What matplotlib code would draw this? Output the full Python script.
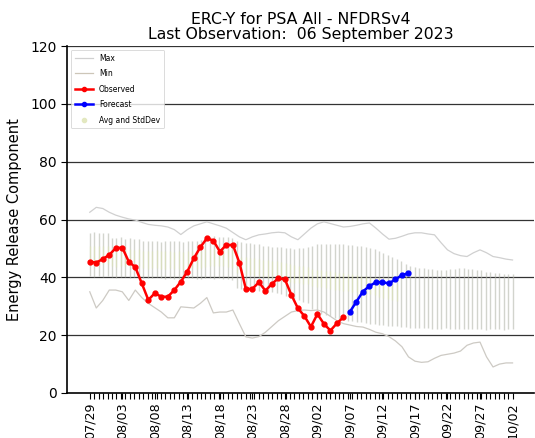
import matplotlib
matplotlib.use("Agg")
import matplotlib.pyplot as plt
import numpy as np
from matplotlib.lines import Line2D

# ---- data (days since 07/29) ----
tick_labels = ["07/29", "08/03", "08/08", "08/13", "08/18", "08/23", "08/28",
               "09/02", "09/07", "09/12", "09/17", "09/22", "09/27", "10/02"]

observed = [45.4, 45.1, 46.3, 47.8, 50.1, 50.3, 45.4, 43.5, 37.9, 32.2,
            34.5, 33.3, 33.3, 35.6, 38.5, 42.0, 46.6, 50.4, 53.5, 52.7,
            48.9, 51.2, 51.2, 45.1, 36.0, 36.0, 38.3, 35.4, 37.7, 39.7,
            39.3, 33.9, 29.3, 26.6, 22.9, 27.3, 23.9, 21.6, 24.1, 26.2]

forecast = [28.1, 31.6, 35.1, 37.0, 38.3, 38.3, 37.9, 39.3, 40.8, 41.4]

max_vals = [62.5, 64.2, 63.8, 62.5, 61.5, 60.8, 60.2, 59.8, 59.0, 58.3,
            58.0, 57.8, 57.4, 56.5, 54.8, 56.5, 57.8, 58.5, 59.2, 58.5,
            57.8, 57.0, 55.5, 54.0, 53.0, 54.0, 54.7, 55.0, 55.4, 55.6,
            55.4, 54.0, 53.0, 55.0, 57.0, 58.5, 59.2, 58.6, 58.0, 57.4,
            57.6, 58.0, 58.5, 58.8, 57.0, 55.0, 53.2, 53.5, 54.2, 55.0,
            55.4, 55.4, 55.0, 54.7, 52.0, 49.5, 48.2, 47.5, 47.2, 48.5,
            49.5, 48.5, 47.2, 46.8, 46.3, 46.0]

min_vals = [35.0, 29.4, 32.0, 35.6, 35.6, 35.0, 32.0, 35.6, 33.0, 31.0,
            29.5, 28.0, 26.0, 26.0, 29.8, 29.6, 29.4, 31.0, 33.0, 27.7,
            28.0, 28.0, 28.7, 24.0, 19.4, 19.0, 19.5, 21.0, 23.0, 25.0,
            26.5, 28.0, 28.5, 28.7, 28.5, 28.7, 28.0, 26.5, 25.0, 24.0,
            23.5, 23.0, 22.8, 22.0, 21.0, 20.5, 19.5, 18.0, 16.0, 12.5,
            11.0, 10.6, 10.8, 12.0, 13.0, 13.4, 13.8, 14.5, 16.5, 17.3,
            17.6, 12.5, 9.0, 10.0, 10.4, 10.4]

std_high = [55.5, 55.6, 55.4, 55.5, 55.2, 53.6, 53.5, 53.8, 53.4, 53.5,
            53.2, 53.4, 52.6, 52.5, 52.4, 52.6, 52.3, 52.5, 52.6, 52.4,
            52.5, 52.3, 52.6, 52.4, 52.5, 52.8, 53.8, 54.0, 54.2, 53.9,
            54.1, 53.8, 53.5, 52.5, 52.3, 52.0, 51.8, 51.6, 51.4, 51.0,
            50.8, 50.6, 50.5, 50.5, 50.2, 50.0, 49.8, 50.0, 50.2, 50.4,
            51.0, 51.4, 51.6, 51.5, 51.7, 51.5, 51.4, 51.6, 51.3, 51.2,
            51.0, 50.8, 50.4, 50.2, 49.8, 49.0, 48.4, 47.8, 47.2, 46.5,
            45.5, 44.5, 43.8, 43.6, 43.4, 43.2, 43.0, 42.8, 42.7, 42.5,
            42.6, 42.8, 43.0, 43.2, 43.1, 43.0, 42.8, 42.6, 42.4, 42.0,
            41.8, 41.6, 41.4, 41.2, 41.0, 41.0]

std_low = [40.5, 40.2, 40.4, 40.0, 40.3, 40.1, 39.8, 40.0, 40.2, 39.9,
           40.0, 40.1, 39.8, 39.6, 39.8, 40.0, 39.7, 39.5, 39.6, 39.4,
           39.5, 39.3, 39.6, 39.8, 39.5, 39.4, 39.6, 39.8, 39.5, 39.6,
           39.4, 39.5, 39.2, 36.2, 36.0, 35.8, 35.6, 35.5, 35.4, 35.3,
           35.0, 34.8, 34.6, 34.2, 33.5, 33.0, 32.5, 32.0, 31.5, 31.0,
           29.0, 28.0, 27.4, 27.0, 26.5, 26.0, 25.6, 25.2, 25.0, 24.8,
           24.6, 24.4, 24.2, 24.0, 23.8, 23.6, 23.4, 23.2, 23.0, 23.0,
           22.8, 22.8, 22.6, 22.5, 22.4, 22.5, 22.4, 22.3, 22.2, 22.3,
           22.4, 22.2, 22.1, 22.0, 22.1, 22.2, 22.0, 22.1, 22.0, 21.9,
           22.0, 22.1, 22.0, 21.9, 22.0, 22.0]

# ---- positions ----
obs_x = np.arange(len(observed))
fc_x = np.arange(len(observed), len(observed) + len(forecast))
mm_x = np.arange(len(max_vals))
bar_x = np.linspace(0, 65, len(std_high))
std_high_a = np.array(std_high)
std_low_a = np.array(std_low)
avg = (std_high_a + std_low_a) / 2

fig = plt.figure(figsize=(5.35, 4.38), dpi=100)
ax = fig.add_axes([67 / 535, 1 - 393 / 438, (534 - 67) / 535, (393 - 46) / 438])

# horizontal grid
for yv in range(20, 121, 20):
    ax.axhline(yv, color="#333333", lw=0.9, zorder=1)

# avg and stddev bars
ax.vlines(bar_x, std_low_a, std_high_a, colors="#b4b8ac", lw=1.0, alpha=0.6, zorder=2)
ax.vlines(bar_x[:70], avg[:70] - 3, avg[:70] + 3, colors="#dfe6b0", lw=1.0, alpha=0.5, zorder=2)

ax.plot(mm_x, max_vals, color="#d0d0d0", lw=0.9, zorder=3)
ax.plot(mm_x, min_vals, color="#cdcac4", lw=0.9, zorder=3)

ax.plot(obs_x, observed, color="#ff0000", lw=1.8, marker="o", ms=3.5, zorder=5)
ax.plot(fc_x, forecast, color="#0000ff", lw=1.8, marker="o", ms=3.5, zorder=5)

ax.set_xlim(-3.5, 68.3)
ax.set_ylim(0, 120)
ax.set_yticks(range(0, 121, 20))
ax.set_xticks(np.arange(0, 66, 5))
ax.set_xticklabels(tick_labels, rotation=90, fontsize=9.2)
ax.set_xticks(bar_x, minor=True)
ax.tick_params(axis="x", which="both", length=4, width=0.8, pad=2.5)
ax.tick_params(axis="y", labelsize=10, length=4)
ax.spines["right"].set_visible(False)
ax.spines["top"].set_visible(False)
ax.spines["left"].set_linewidth(1.2)
ax.spines["bottom"].set_linewidth(1.2)

ax.set_ylabel("Energy Release Component", fontsize=10.5, labelpad=6)
ax.set_title("ERC-Y for PSA All - NFDRSv4\nLast Observation:  06 September 2023",
             fontsize=11.3, linespacing=1.0, pad=5)

handles = [
    Line2D([], [], color="#d0d0d0", lw=0.9),
    Line2D([], [], color="#cdc6b8", lw=0.9),
    Line2D([], [], color="#ff0000", lw=1.8, marker="o", ms=3),
    Line2D([], [], color="#0000ff", lw=1.8, marker="o", ms=3),
    Line2D([], [], ls="none", marker="o", ms=3, color="#e3e8c0"),
]
labels = ["Max", "Min", "Observed", "Forecast", "Avg and StdDev"]
leg = ax.legend(handles, labels, loc="upper left", fontsize=5.5, frameon=True,
                borderpad=0.5, labelspacing=0.85, handlelength=2.4,
                bbox_to_anchor=(0.0, 1.0))
leg.get_frame().set_edgecolor("#cccccc")
leg.get_frame().set_linewidth(0.6)

fig.savefig("out.png", dpi=100)
